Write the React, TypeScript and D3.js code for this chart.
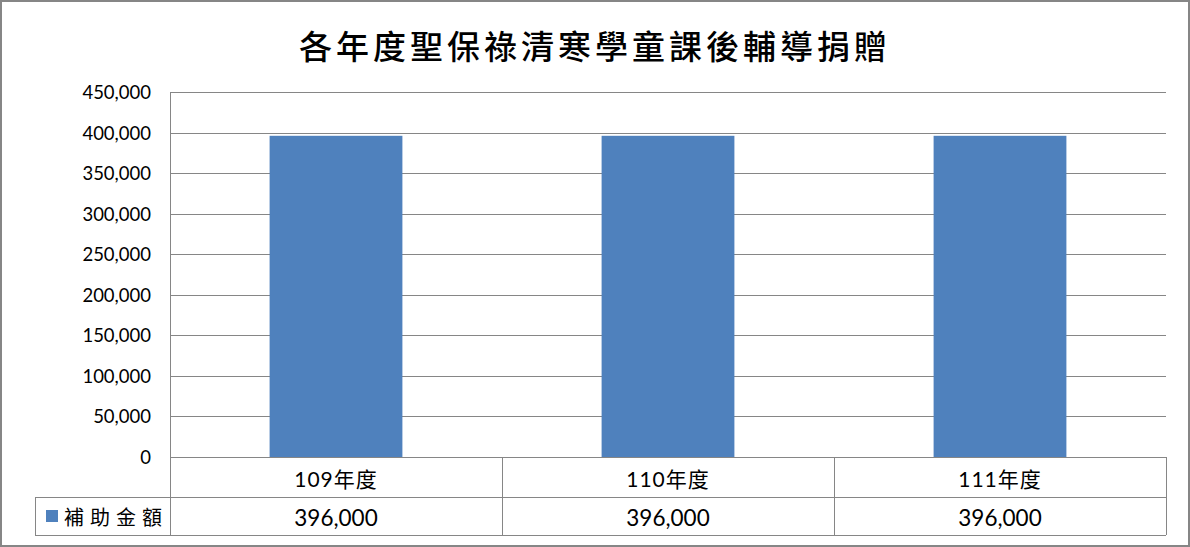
import React, { useEffect, useRef } from 'react';
import * as d3 from 'd3';

const title = '各年度聖保祿清寒學童課後輔導捐贈';
const categories = ['109年度', '110年度', '111年度'];
const seriesName = '補助金額';
const values = [396000, 396000, 396000];
const yMax = 450000;

const W = 1190;
const H = 547;

const App: React.FC = () => {
  const ref = useRef<SVGSVGElement>(null);

  useEffect(() => {
    if (!ref.current) return;
    const svg = d3.select(ref.current);
    svg.selectAll('*').remove();

    const left = 170;
    const right = 1166;
    const top = 92;
    const bottom = 457;
    const row1 = 497;
    const row2 = 535;
    const legendLeft = 35;
    const grey = '#868686';
    const latin = "Lato, 'Noto Sans CJK TC', sans-serif";

    svg.append('rect')
      .attr('x', 1).attr('y', 1)
      .attr('width', W - 2).attr('height', H - 2)
      .attr('fill', '#fff')
      .attr('stroke', grey)
      .attr('stroke-width', 2);

    svg.append('text')
      .attr('x', W / 2)
      .attr('y', 45)
      .attr('text-anchor', 'middle')
      .attr('dominant-baseline', 'central')
      .attr('font-family', "'Noto Sans CJK TC', sans-serif")
      .attr('font-size', 33)
      .attr('font-weight', 500)
      .attr('letter-spacing', 4)
      .attr('fill', '#000')
      .text(title);

    const x = d3.scaleBand<string>()
      .domain(categories)
      .range([left, right])
      .paddingInner(0)
      .paddingOuter(0);

    const y = d3.scaleLinear()
      .domain([0, yMax])
      .range([bottom, top]);

    const ticks = y.ticks(9);
    const fmt = d3.format(',');

    svg.append('g')
      .selectAll('line')
      .data(ticks)
      .enter()
      .append('line')
      .attr('x1', left).attr('x2', right)
      .attr('y1', d => Math.round(y(d)) + 0.5)
      .attr('y2', d => Math.round(y(d)) + 0.5)
      .attr('stroke', grey)
      .attr('stroke-width', 1);

    svg.append('g')
      .selectAll('text')
      .data(ticks)
      .enter()
      .append('text')
      .attr('x', 151)
      .attr('y', d => y(d))
      .attr('text-anchor', 'end')
      .attr('dominant-baseline', 'central')
      .attr('font-family', latin)
      .attr('font-size', 18.5)
      .attr('fill', '#000')
      .text(d => fmt(d));

    // left edge of the plot
    svg.append('line')
      .attr('x1', left + 0.5).attr('x2', left + 0.5)
      .attr('y1', top).attr('y2', bottom)
      .attr('stroke', grey);

    const barW = x.bandwidth() * 0.4;
    svg.append('g')
      .selectAll('rect')
      .data(values)
      .enter()
      .append('rect')
      .attr('x', (d, i) => x(categories[i])! + (x.bandwidth() - barW) / 2)
      .attr('y', d => y(d))
      .attr('width', barW)
      .attr('height', d => bottom - y(d))
      .attr('fill', '#4F81BD');

    // data table
    const tbl = svg.append('g')
      .attr('stroke', grey)
      .attr('stroke-width', 1)
      .attr('fill', 'none');
    tbl.append('line').attr('x1', left).attr('x2', right).attr('y1', bottom + 0.5).attr('y2', bottom + 0.5);
    tbl.append('line').attr('x1', legendLeft).attr('x2', right).attr('y1', row1 + 0.5).attr('y2', row1 + 0.5);
    tbl.append('line').attr('x1', legendLeft).attr('x2', right).attr('y1', row2 + 0.5).attr('y2', row2 + 0.5);
    tbl.append('line').attr('x1', legendLeft + 0.5).attr('x2', legendLeft + 0.5).attr('y1', row1).attr('y2', row2);
    const dividers = [left, ...categories.map(c => x(c)! + x.bandwidth())];
    tbl.selectAll('line.v')
      .data(dividers)
      .enter()
      .append('line')
      .attr('class', 'v')
      .attr('x1', d => Math.round(d) + 0.5)
      .attr('x2', d => Math.round(d) + 0.5)
      .attr('y1', bottom)
      .attr('y2', row2);

    svg.append('g')
      .selectAll('text')
      .data(categories)
      .enter()
      .append('text')
      .attr('x', d => x(d)! + x.bandwidth() / 2)
      .attr('y', (bottom + row1) / 2 + 1)
      .attr('text-anchor', 'middle')
      .attr('dominant-baseline', 'central')
      .attr('font-family', latin)
      .attr('font-size', 21)
      .attr('letter-spacing', 1)
      .attr('fill', '#000')
      .text(d => d);

    svg.append('g')
      .selectAll('text')
      .data(values)
      .enter()
      .append('text')
      .attr('x', (d, i) => x(categories[i])! + x.bandwidth() / 2)
      .attr('y', (row1 + row2) / 2 + 1)
      .attr('text-anchor', 'middle')
      .attr('dominant-baseline', 'central')
      .attr('font-family', latin)
      .attr('font-size', 22.5)
      .attr('fill', '#000')
      .text(d => fmt(d));

    svg.append('rect')
      .attr('x', 46).attr('y', 510)
      .attr('width', 12).attr('height', 12)
      .attr('fill', '#4F81BD');

    svg.append('text')
      .attr('x', 64)
      .attr('y', (row1 + row2) / 2)
      .attr('dominant-baseline', 'central')
      .attr('font-family', "'Noto Sans CJK TC', sans-serif")
      .attr('font-size', 20)
      .attr('letter-spacing', 6)
      .attr('fill', '#000')
      .text(seriesName);
  }, []);

  return (
    <svg
      ref={ref}
      width={W}
      height={H}
      style={{ position: 'absolute', left: 0, top: 0, display: 'block' }}
    />
  );
};

export default App;
